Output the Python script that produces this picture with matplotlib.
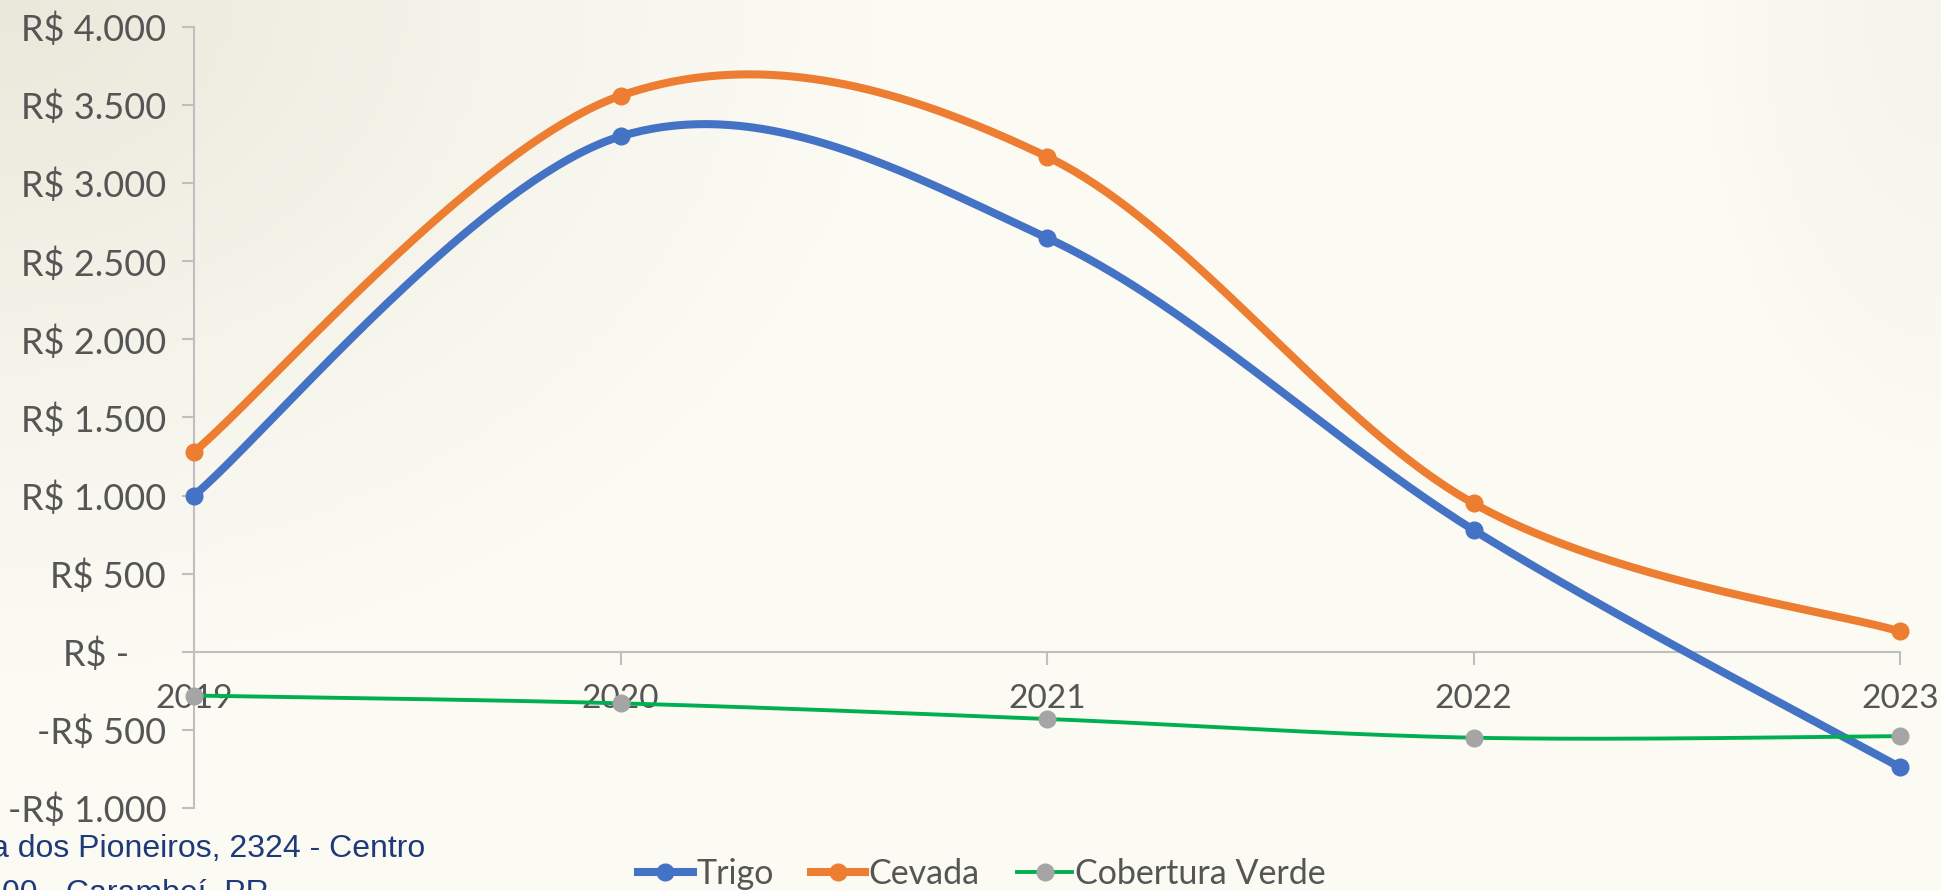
import numpy as np
import matplotlib
matplotlib.use("Agg")
import matplotlib.pyplot as plt
from matplotlib.lines import Line2D

# chart data
years = ["2019", "2020", "2021", "2022", "2023"]
trigo = [1000, 3300, 2650, 780, -740]
cevada = [1280, 3560, 3170, 950, 130]
cobertura = [-280, -330, -430, -550, -540]
y_ticks = [-1000, -500, 0, 500, 1000, 1500, 2000, 2500, 3000, 3500, 4000]
y_labels = ["-R$ 1.000", "-R$ 500", "R$ -    ", "R$ 500", "R$ 1.000", "R$ 1.500",
            "R$ 2.000", "R$ 2.500", "R$ 3.000", "R$ 3.500", "R$ 4.000"]
address = ["Rua dos Pioneiros, 2324 - Centro", "00 - Carambeí, PR"]

W, H = 1941, 890
TICK_FONT = ["Lato", "DejaVu Sans"]
GREY = "#555555"
AXIS = "#BFBFBF"


def smooth(xs, ys, n=80):
    """Excel-style smoothed line: cubic Bezier with Catmull-Rom control points."""
    pts = np.column_stack([xs, ys]).astype(float)
    padded = np.vstack([pts[0], pts, pts[-1]])
    out = []
    t = np.linspace(0, 1, n)[:, None]
    for i in range(len(pts) - 1):
        p0, p1 = pts[i], pts[i + 1]
        c0 = p0 + (padded[i + 2] - padded[i]) / 6
        c1 = p1 - (padded[i + 3] - padded[i + 1]) / 6
        seg = (1 - t) ** 3 * p0 + 3 * (1 - t) ** 2 * t * c0 + 3 * (1 - t) * t ** 2 * c1 + t ** 3 * p1
        out.append(seg if i == 0 else seg[1:])
    return np.vstack(out)


fig = plt.figure(figsize=(W / 100, H / 100), dpi=100)

# cream paper-like background, darker towards top-left
bg = fig.add_axes([0, 0, 1, 1], zorder=-10)
gx, gy = np.meshgrid(np.linspace(0, 1, 400), np.linspace(0, 1, 200))
d = np.sqrt((gx / 0.45) ** 2 + (gy / 0.75) ** 2)
w = np.clip(1 - d, 0, 1) ** 1.3
d2 = np.sqrt(((1 - gx) / 0.12) ** 2 + (gy / 0.5) ** 2)
w = np.maximum(w, 0.35 * np.clip(1 - d2, 0, 1))
base = np.array([251, 250, 243]) / 255
dark = np.array([234, 232, 218]) / 255
img = base[None, None, :] * (1 - w[..., None]) + dark[None, None, :] * w[..., None]
bg.imshow(img, aspect="auto", extent=[0, 1, 0, 1], origin="upper")
bg.axis("off")

ax = fig.add_axes([194 / W, 1 - 808 / H, (1900 - 194) / W, (808 - 27) / H])
ax.patch.set_alpha(0)

x = np.arange(len(years))
series = [
    (trigo, "Trigo", "#4472C4", "#4472C4", 5.8),
    (cevada, "Cevada", "#ED7D31", "#ED7D31", 5.8),
    (cobertura, "Cobertura Verde", "#00B050", "#A5A5A5", 2.8),
]
handles = []
for vals, name, lc, mc, lw in series:
    curve = smooth(x, vals)
    ax.plot(curve[:, 0], curve[:, 1], color=lc, linewidth=lw, solid_capstyle="round",
            clip_on=False, zorder=3)
    ax.plot(x, vals, linestyle="none", marker="o", markersize=12, color=mc,
            clip_on=False, zorder=4)
    handles.append(Line2D([], [], color=lc, linewidth=lw, marker="o", markersize=12,
                          markerfacecolor=mc, markeredgecolor=mc))

ax.set_xlim(0, len(years) - 1)
ax.set_ylim(-1000, 4000)

for s in ["top", "right"]:
    ax.spines[s].set_visible(False)
ax.spines["left"].set_color(AXIS)
ax.spines["left"].set_linewidth(1.5)
ax.spines["bottom"].set_color(AXIS)
ax.spines["bottom"].set_linewidth(1.5)
ax.spines["bottom"].set_position(("data", 0))

ax.set_xticks(x)
ax.set_xticklabels(years)
ax.set_yticks(y_ticks)
ax.set_yticklabels(y_labels)
ax.tick_params(axis="y", direction="out", length=9, width=1.5, color=AXIS, pad=11,
               labelsize=26, labelcolor=GREY)
ax.tick_params(axis="x", direction="out", length=9, width=1.5, color=AXIS, pad=14,
               labelsize=24, labelcolor=GREY)
for lab in ax.get_xticklabels() + ax.get_yticklabels():
    lab.set_fontfamily(TICK_FONT)

fig.legend(handles, [s[1] for s in series], loc="center", bbox_to_anchor=(982 / W, 1 - 874 / H),
           ncol=3, frameon=False, handlelength=1.6, handletextpad=0.1, columnspacing=1.1,
           prop={"family": TICK_FONT, "size": 24.5}, labelcolor=GREY, borderaxespad=0)

# footer address, clipped by the figure edges
fig.text(425 / W, 1 - 857 / H, address[0], ha="right", va="baseline", fontsize=23,
         family="Liberation Sans", color="#1F3A7A")
fig.text(2 / W, 1 - 902 / H, address[1], ha="left", va="baseline", fontsize=23,
         family="Liberation Sans", color="#1F3A7A")

fig.savefig("out.png", dpi=100)
plt.close(fig)
